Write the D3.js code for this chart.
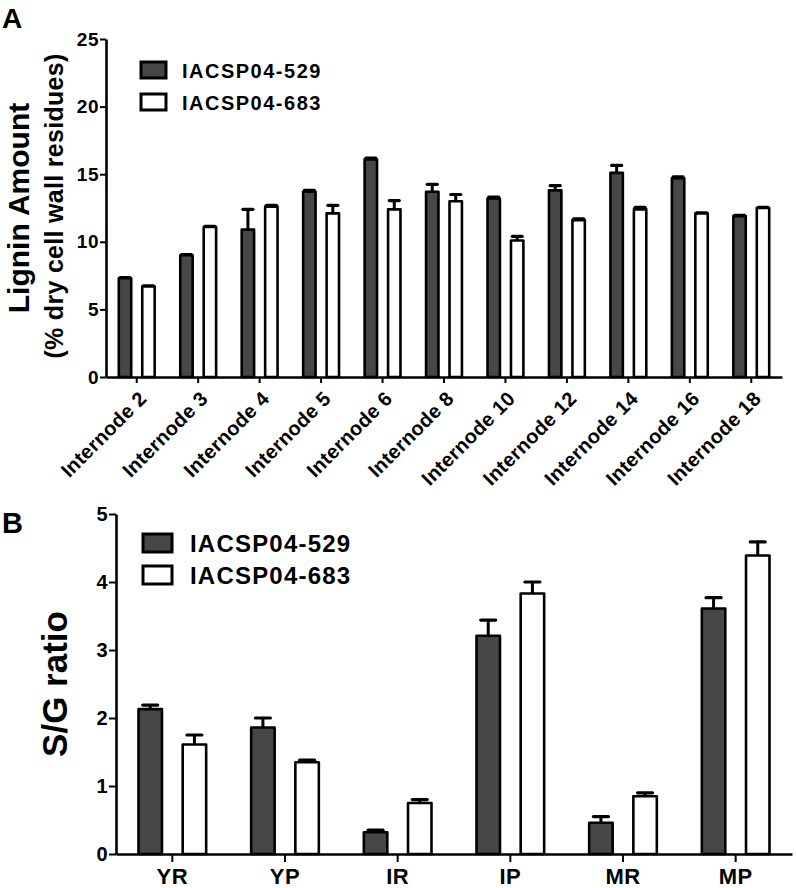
<!DOCTYPE html>
<html>
<head>
<meta charset="utf-8">
<script src="https://cdn.jsdelivr.net/npm/d3@7"></script>
<style>
  html, body { margin: 0; padding: 0; background: #fff; }
  svg { display: block; font-family: "Liberation Sans", Arial, Helvetica, sans-serif; font-weight: bold; }
</style>
</head>
<body>
<svg id="chart" width="796" height="888"></svg>
<script>
// ---------- Data ----------
const seriesNames = ["IACSP04-529", "IACSP04-683"];

// Panel A: lignin amount
const internodes = ["Internode 2", "Internode 3", "Internode 4", "Internode 5", "Internode 6",
  "Internode 8", "Internode 10", "Internode 12", "Internode 14", "Internode 16", "Internode 18"];
const lignin529    = [7.3, 9.0, 10.9, 13.7, 16.1, 13.7, 13.2, 13.8, 15.1, 14.7, 11.9];
const lignin529Err = [0.05, 0.05, 1.5, 0.1, 0.1, 0.55, 0.1, 0.35, 0.55, 0.1, 0.05];
const lignin683    = [6.7, 11.1, 12.6, 12.1, 12.4, 13.0, 10.1, 11.6, 12.4, 12.1, 12.5];
const lignin683Err = [0.05, 0.05, 0.1, 0.6, 0.65, 0.5, 0.3, 0.1, 0.15, 0.05, 0.05];
const ticksA = [0, 5, 10, 15, 20, 25];

// Panel B: S/G ratio
const tissues = ["YR", "YP", "IR", "IP", "MR", "MP"];
const sg529    = [2.13, 1.86, 0.32, 3.21, 0.46, 3.61];
const sg529Err = [0.06, 0.14, 0.03, 0.23, 0.09, 0.16];
const sg683    = [1.61, 1.35, 0.75, 3.83, 0.85, 4.39];
const sg683Err = [0.14, 0.03, 0.05, 0.17, 0.05, 0.20];
const ticksB = [0, 1, 2, 3, 4, 5];

const fills = ["#474747", "#ffffff"];
const SW = 2.6;

const svg = d3.select("#chart");

function drawPanel(opt) {
  const g = svg.append("g");
  const x0 = d3.scaleBand().domain(opt.cats).range([opt.left, opt.right]).paddingInner(0).paddingOuter(0);
  const x1 = d3.scaleBand().domain([0, 1]).range([0, x0.bandwidth()])
    .paddingInner(opt.pIn).paddingOuter(opt.pOut);
  const y = d3.scaleLinear().domain([0, opt.ymax]).range([opt.bottom, opt.top]);

  const rows = opt.cats.map((c, i) => ({
    cat: c,
    vals: [
      { s: 0, v: opt.v1[i], e: opt.e1[i] },
      { s: 1, v: opt.v2[i], e: opt.e2[i] }
    ]
  }));

  const grp = g.selectAll("g.grp").data(rows).join("g")
    .attr("class", "grp")
    .attr("transform", d => `translate(${x0(d.cat)},0)`);

  // error bars (upward only)
  grp.selectAll("line.err").data(d => d.vals).join("line")
    .attr("class", "err")
    .attr("x1", d => x1(d.s) + x1.bandwidth() / 2)
    .attr("x2", d => x1(d.s) + x1.bandwidth() / 2)
    .attr("y1", d => y(d.v))
    .attr("y2", d => y(d.v + d.e))
    .attr("stroke", "#000").attr("stroke-width", 3);
  grp.selectAll("line.cap").data(d => d.vals).join("line")
    .attr("class", "cap")
    .attr("x1", d => x1(d.s) + x1.bandwidth() / 2 - opt.cap / 2)
    .attr("x2", d => x1(d.s) + x1.bandwidth() / 2 + opt.cap / 2)
    .attr("y1", d => y(d.v + d.e))
    .attr("y2", d => y(d.v + d.e))
    .attr("stroke", "#000").attr("stroke-width", 3.2).attr("stroke-linecap", "round");

  grp.selectAll("rect").data(d => d.vals).join("rect")
    .attr("x", d => x1(d.s) + SW / 2)
    .attr("width", x1.bandwidth() - SW)
    .attr("y", d => y(d.v))
    .attr("height", d => y(0) - y(d.v))
    .attr("fill", d => fills[d.s])
    .attr("stroke", "#000").attr("stroke-width", SW)
    .attr("stroke-linejoin", "round");

  // y axis
  const ya = g.append("g").attr("transform", `translate(${opt.left},0)`)
    .call(d3.axisLeft(y).tickValues(opt.yticks).tickFormat(d3.format("d"))
      .tickSize(opt.ytick).tickSizeOuter(0).tickPadding(1));
  ya.select(".domain").attr("stroke-width", SW);
  ya.selectAll(".tick line").attr("stroke-width", 2);
  ya.selectAll(".tick text").attr("font-size", opt.yFont).attr("font-weight", "bold")
    .attr("font-family", "Liberation Sans, Arial, sans-serif").attr("fill", "#000")
    .attr("letter-spacing", 0.5);

  // x axis
  const xa = g.append("g").attr("transform", `translate(0,${opt.bottom})`)
    .call(d3.axisBottom(x0).tickSize(opt.xtick).tickSizeOuter(0));
  xa.select(".domain").attr("stroke-width", SW);
  xa.selectAll(".tick line").attr("stroke-width", 2);
  const xt = xa.selectAll(".tick text").attr("font-size", opt.xFont).attr("font-weight", "bold")
    .attr("font-family", "Liberation Sans, Arial, sans-serif").attr("fill", "#000");
  if (opt.rotate) {
    xt.attr("x", 0).attr("y", 0).attr("dy", 0)
      .attr("text-anchor", "end")
      .attr("letter-spacing", 0.3)
      .attr("transform", "translate(11,23) rotate(-45)");
  } else {
    xt.attr("y", opt.xtick + 6).attr("dy", "0.71em").attr("letter-spacing", 0.5);
  }

  // legend
  const lg = g.append("g");
  seriesNames.forEach((n, i) => {
    lg.append("rect")
      .attr("x", opt.leg.x).attr("y", opt.leg.y + i * opt.leg.dy)
      .attr("width", opt.leg.w).attr("height", opt.leg.h)
      .attr("fill", fills[i]).attr("stroke", "#000").attr("stroke-width", 3);
    lg.append("text")
      .attr("x", opt.leg.tx).attr("y", opt.leg.ty + i * opt.leg.dy)
      .attr("font-size", opt.leg.fs).attr("letter-spacing", opt.leg.ls)
      .text(n);
  });
  return g;
}

drawPanel({
  cats: internodes, v1: lignin529, e1: lignin529Err, v2: lignin683, e2: lignin683Err,
  left: 106, right: 782, top: 39, bottom: 377, ymax: 25, yticks: ticksA,
  pIn: 0.36, pOut: 0.49, cap: 10, ytick: 6, xtick: 6, yFont: 19, xFont: 20, rotate: true,
  leg: { x: 141, y: 62, dy: 32, w: 25, h: 16, tx: 182, ty: 78, fs: 20, ls: 1.5 }
});

drawPanel({
  cats: tissues, v1: sg529, e1: sg529Err, v2: sg683, e2: sg683Err,
  left: 116, right: 792, top: 514, bottom: 854, ymax: 5, yticks: ticksB,
  pIn: 0.41, pOut: 0.48, cap: 15, ytick: 7, xtick: 8, yFont: 20, xFont: 22, rotate: false,
  leg: { x: 143, y: 534, dy: 32, w: 29, h: 18, tx: 190, ty: 552, fs: 24, ls: 1.2 }
});

// Panel letters
svg.append("text").attr("x", 2).attr("y", 28).attr("font-size", 28).text("A");
svg.append("text").attr("x", 2).attr("y", 533).attr("font-size", 29).text("B");

// Y axis titles
svg.append("text")
  .attr("transform", "translate(29,208) rotate(-90)")
  .attr("text-anchor", "middle").attr("font-size", 30)
  .text("Lignin Amount");
svg.append("text")
  .attr("transform", "translate(63,206) rotate(-90)")
  .attr("text-anchor", "middle").attr("font-size", 25).attr("letter-spacing", 0.3)
  .text("(% dry cell wall residues)");
svg.append("text")
  .attr("transform", "translate(67,684) rotate(-90)")
  .attr("text-anchor", "middle").attr("font-size", 35)
  .text("S/G ratio");
</script>
</body>
</html>
